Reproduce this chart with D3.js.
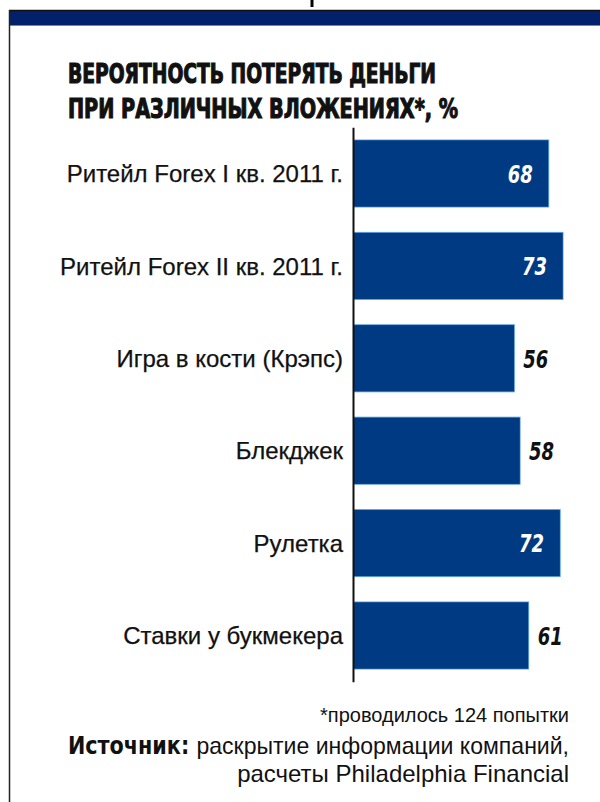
<!DOCTYPE html>
<html>
<head>
<meta charset="utf-8">
<script src="https://cdn.jsdelivr.net/npm/d3@7"></script>
<style>
  html, body { margin: 0; padding: 0; background: #fff; }
  svg { display: block; }
</style>
</head>
<body>
<svg id="chart" width="600" height="802"></svg>
<script>
// Probability of losing money, per kind of bet, %
const categories = [
  "Ритейл Forex I кв. 2011 г.",
  "Ритейл Forex II кв. 2011 г.",
  "Игра в кости (Крэпс)",
  "Блекджек",
  "Рулетка",
  "Ставки у букмекера"
];
const values = [68, 73, 56, 58, 72, 61];
const titleLines = ["ВЕРОЯТНОСТЬ ПОТЕРЯТЬ ДЕНЬГИ", "ПРИ РАЗЛИЧНЫХ ВЛОЖЕНИЯХ*, %"];
const footnote = "*проводилось 124 попытки";
const sourceLabel = "Источник:";
const sourceLines = ["раскрытие информации компаний,", "расчеты Philadelphia Financial"];

const svg = d3.select("#chart");
const navy = "#03206b";
const barFill = "#003a82";
const barEdge = "#5fa3db";
const ink = "#111";

// squeeze a text element horizontally by a factor
function squeeze(sel, k) {
  sel.each(function () {
    const w = this.getComputedTextLength();
    d3.select(this).attr("textLength", w * k).attr("lengthAdjust", "spacingAndGlyphs");
  });
}

// frame: black rule, navy header band, left border, small top tick
svg.append("rect").attr("x", 9).attr("y", 10).attr("width", 591).attr("height", 16).attr("fill", navy);
svg.append("line").attr("x1", 9).attr("x2", 600).attr("y1", 10.5).attr("y2", 10.5).attr("stroke", "#111").attr("stroke-width", 1.5);
svg.append("line").attr("x1", 9).attr("x2", 600).attr("y1", 25.5).attr("y2", 25.5).attr("stroke", "#6f86b8").attr("stroke-width", 1);
svg.append("line").attr("x1", 9.5).attr("x2", 9.5).attr("y1", 10).attr("y2", 802).attr("stroke", "#222").attr("stroke-width", 1.5);
svg.append("line").attr("x1", 312).attr("x2", 312).attr("y1", 0).attr("y2", 7).attr("stroke", "#000").attr("stroke-width", 3);

// title
const heavyFont = "'DejaVu Sans Condensed', 'DejaVu Sans', sans-serif";
const titleWidths = [368, 390];
svg.selectAll("text.title").data(titleLines).join("text")
  .attr("class", "title")
  .attr("x", 68)
  .attr("y", (d, i) => 83 + i * 35)
  .attr("font-family", heavyFont)
  .attr("font-weight", 700)
  .attr("font-size", 27)
  .attr("fill", ink)
  .attr("stroke", ink)
  .attr("stroke-width", 1.1)
  .attr("textLength", (d, i) => titleWidths[i])
  .attr("lengthAdjust", "spacingAndGlyphs")
  .text(d => d);

// scales
const x = d3.scaleLinear().domain([0, 73]).range([354, 563]);
const y = d3.scaleBand().domain(categories).range([127.3, 681.7]).paddingInner(0.275).paddingOuter(0.1375);

const data = categories.map((c, i) => ({ c, v: values[i] }));

// bars
svg.append("g").selectAll("rect").data(data).join("rect")
  .attr("x", x(0))
  .attr("y", d => y(d.c))
  .attr("width", d => x(d.v) - x(0))
  .attr("height", y.bandwidth())
  .attr("fill", barFill)
  .attr("stroke", barEdge)
  .attr("stroke-width", 1);
svg.append("g").selectAll("rect").data(data).join("rect")
  .attr("x", x(0) - 0.5)
  .attr("y", d => y(d.c) + 0.5)
  .attr("width", d => x(d.v) - x(0))
  .attr("height", y.bandwidth() - 1)
  .attr("fill", barFill);

// category axis
const axis = d3.axisLeft(y).tickSize(0).tickPadding(10);
const gAxis = svg.append("g").attr("transform", `translate(${x(0) - 1},0)`).call(axis);
gAxis.select(".domain").attr("stroke", "#111").attr("stroke-width", 2);
gAxis.selectAll("text")
  .attr("font-family", "'Liberation Sans', Arial, sans-serif")
  .attr("font-size", 24)
  .attr("fill", ink)
  .attr("stroke", ink)
  .attr("stroke-width", 0.25)
  .attr("dy", "0.36em");

// value labels: inside in white for long bars, outside in black otherwise
const inside = d => d.v >= 65;
const vals = svg.append("g").selectAll("text").data(data).join("text")
  .attr("x", d => inside(d) ? x(d.v) - 16 : x(d.v) + 9)
  .attr("y", d => y(d.c) + y.bandwidth() / 2)
  .attr("dy", "0.37em")
  .attr("text-anchor", d => inside(d) ? "end" : "start")
  .attr("font-family", heavyFont)
  .attr("font-weight", 700)
  .attr("font-style", "italic")
  .attr("font-size", 25)
  .attr("fill", d => inside(d) ? "#fff" : ink)
  .text(d => d.v);
squeeze(vals, 0.8);

// footnote and source
const noteFont = "'Liberation Sans', Arial, sans-serif";
svg.append("text")
  .attr("x", 569).attr("y", 722)
  .attr("text-anchor", "end")
  .attr("font-family", noteFont)
  .attr("font-size", 20)
  .attr("fill", ink)
  .text(footnote);
const src = svg.append("text")
  .attr("x", 569).attr("y", 754)
  .attr("text-anchor", "end")
  .attr("font-family", noteFont)
  .attr("font-size", 24)
  .attr("fill", ink);
src.append("tspan").attr("font-weight", 700).attr("font-family", heavyFont).text(sourceLabel + " ");
src.append("tspan").text(sourceLines[0]);
squeeze(src, 0.96);
svg.append("text")
  .attr("x", 569).attr("y", 782)
  .attr("text-anchor", "end")
  .attr("font-family", noteFont)
  .attr("font-size", 24)
  .attr("fill", ink)
  .text(sourceLines[1]);
</script>
</body>
</html>
